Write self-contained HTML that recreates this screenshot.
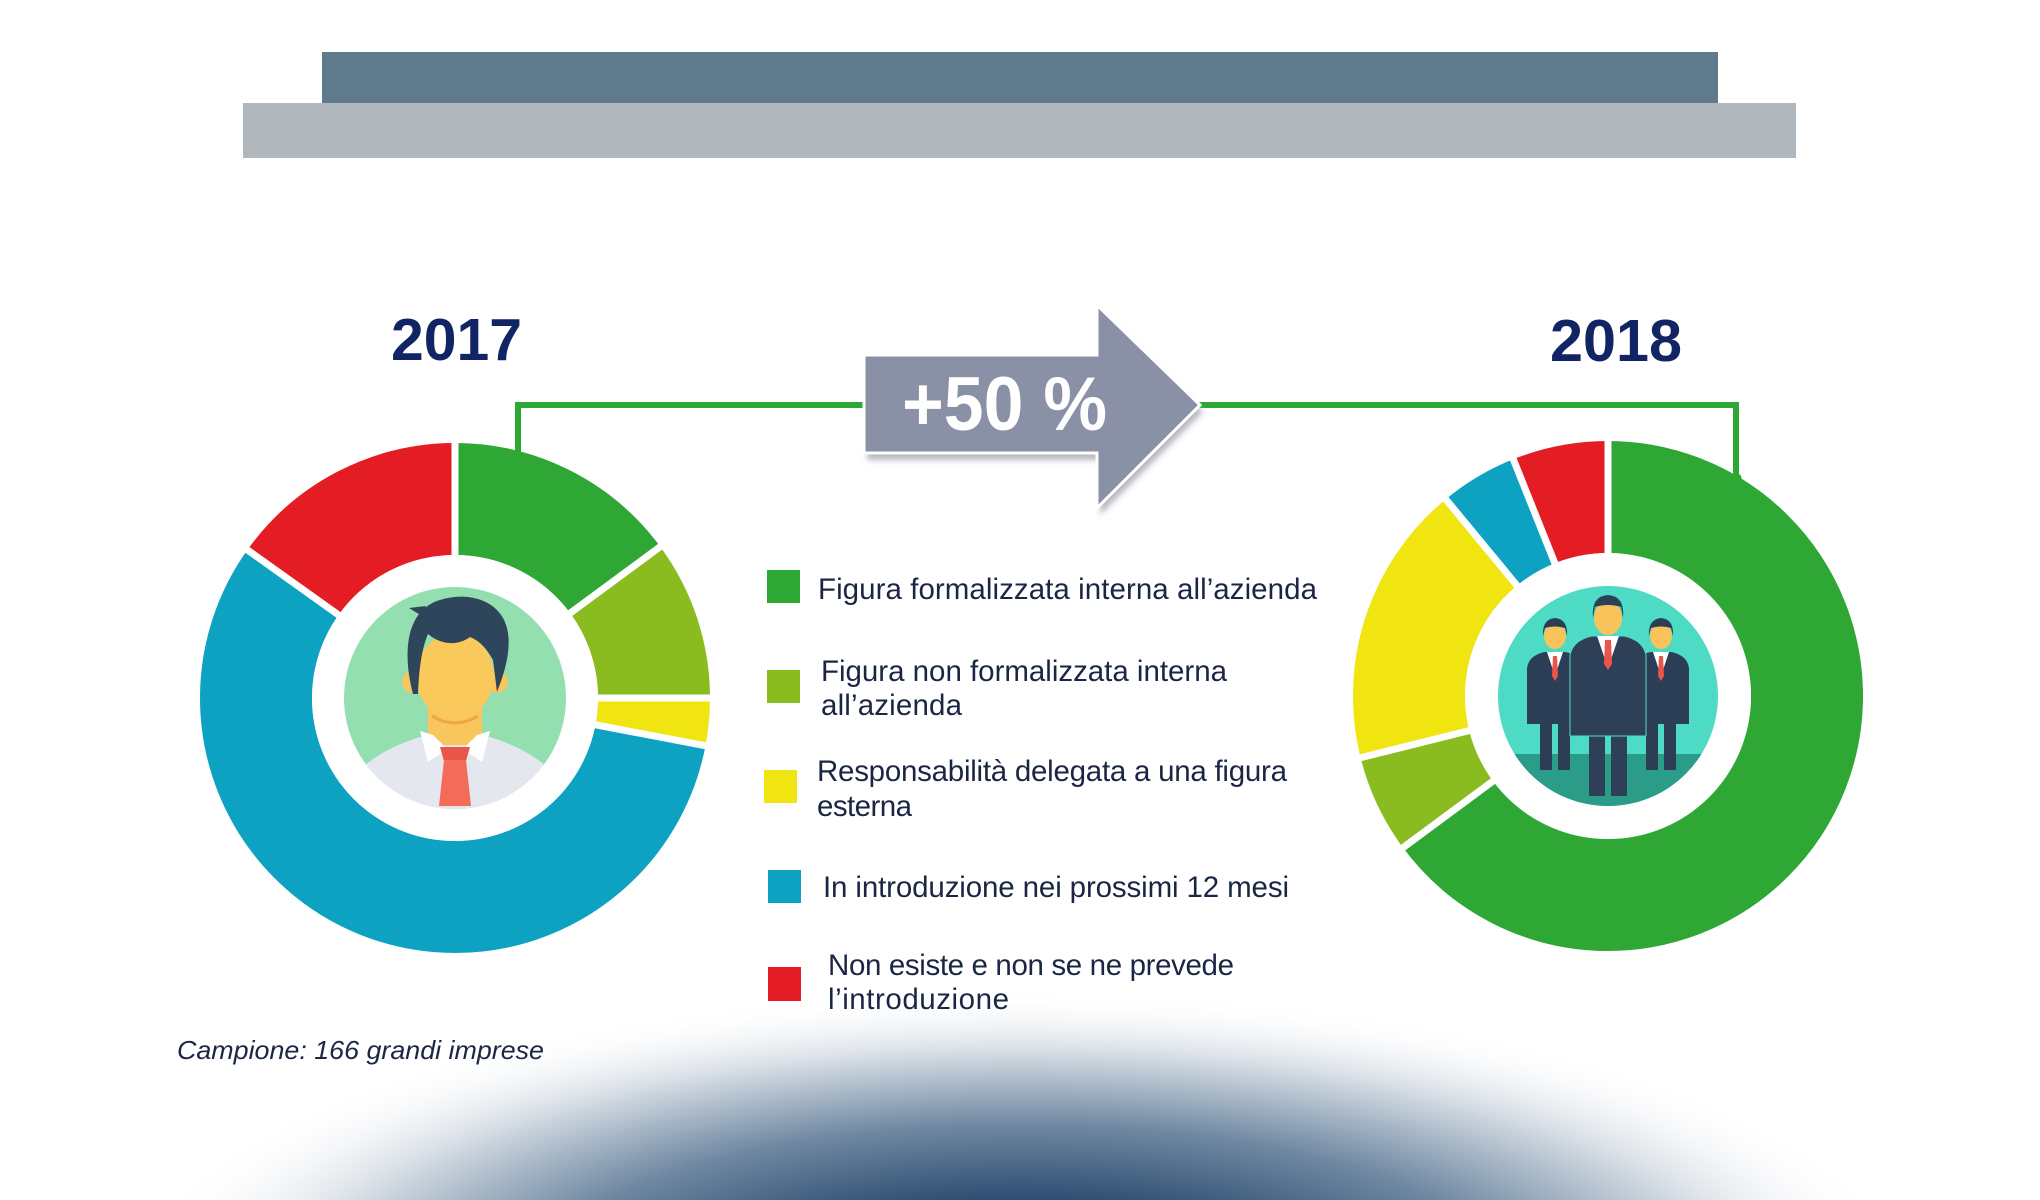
<!DOCTYPE html>
<html>
<head>
<meta charset="utf-8">
<style>
html,body{margin:0;padding:0;background:#fff;}
svg{display:block;}
text{font-family:"Liberation Sans",Arial,sans-serif;}
</style>
</head>
<body>
<svg width="2040" height="1200" viewBox="0 0 2040 1200" xmlns="http://www.w3.org/2000/svg">
<defs>
  <radialGradient id="glow" cx="1020" cy="1290" r="300" gradientUnits="userSpaceOnUse" gradientTransform="translate(1020 1290) scale(3.0 1) translate(-1020 -1290)">
    <stop offset="0" stop-color="#1c385d"/>
    <stop offset="0.3" stop-color="#2e4d72"/>
    <stop offset="0.55" stop-color="#6f88a2"/>
    <stop offset="0.8" stop-color="#d8dfe6"/>
    <stop offset="1" stop-color="#ffffff" stop-opacity="0"/>
  </radialGradient>
  <filter id="blur" x="-10%" y="-10%" width="120%" height="130%"><feGaussianBlur stdDeviation="3"/></filter>
  <clipPath id="clipL"><circle cx="455" cy="698" r="111"/></clipPath>
  <clipPath id="clipR"><circle cx="1608" cy="696" r="110"/></clipPath>
</defs>

<!-- bottom glow -->
<rect x="0" y="900" width="2040" height="300" fill="url(#glow)"/>

<!-- top bars -->
<rect x="322" y="52" width="1396" height="52" fill="#5e7a8b"/>
<rect x="243" y="103" width="1553" height="55" fill="#b0b7bd"/>

<!-- years -->
<text x="391" y="360" font-size="59" font-weight="bold" fill="#112463" textLength="131" lengthAdjust="spacingAndGlyphs">2017</text>
<text x="1550" y="361" font-size="59" font-weight="bold" fill="#112463" textLength="132" lengthAdjust="spacingAndGlyphs">2018</text>

<!-- green connector -->
<polyline points="518,452 518,405 866,405" fill="none" stroke="#2ea735" stroke-width="6"/>
<polyline points="1198,405 1736,405 1736,478" fill="none" stroke="#2ea735" stroke-width="6"/>
<circle cx="1737" cy="478" r="4.5" fill="#2ea735"/>

<!-- arrow -->
<polygon points="864,355 1097,355 1097,305 1200,405 1097,508 1097,453 864,453" fill="#b9b9bf" transform="translate(3,7)" filter="url(#blur)"/>
<polygon points="864,355 1097,355 1097,305 1200,405 1097,508 1097,453 864,453" fill="#8a91a6" stroke="#ffffff" stroke-width="3"/>
<text x="902" y="430" font-size="76" font-weight="bold" fill="#ffffff" textLength="205" lengthAdjust="spacingAndGlyphs">+50 %</text>

<!-- LEFT DONUT -->
<g transform="rotate(-90 455 698)" fill="none" stroke-width="112">
  <circle cx="455" cy="698" r="199" stroke="#2ea735" stroke-dasharray="187 2000" stroke-dashoffset="0"/>
  <circle cx="455" cy="698" r="199" stroke="#8abb1f" stroke-dasharray="127 2000" stroke-dashoffset="-186.2"/>
  <circle cx="455" cy="698" r="199" stroke="#f0e511" stroke-dasharray="38 2000" stroke-dashoffset="-312.6"/>
  <circle cx="455" cy="698" r="199" stroke="#0ea2c2" stroke-dasharray="712 2000" stroke-dashoffset="-350.1"/>
  <circle cx="455" cy="698" r="199" stroke="#e41c24" stroke-dasharray="190 2000" stroke-dashoffset="-1061.1"/>
</g>
<g stroke="#ffffff" stroke-width="7">
  <line x1="455" y1="698" x2="455" y2="430" transform="rotate(0 455 698)"/>
  <line x1="455" y1="698" x2="455" y2="430" transform="rotate(53.6 455 698)"/>
  <line x1="455" y1="698" x2="455" y2="430" transform="rotate(90 455 698)"/>
  <line x1="455" y1="698" x2="455" y2="430" transform="rotate(100.8 455 698)"/>
  <line x1="455" y1="698" x2="455" y2="430" transform="rotate(305.5 455 698)"/>
</g>
<circle cx="455" cy="698" r="143" fill="#ffffff"/>
<circle cx="455" cy="698" r="111" fill="#93dfb0"/>
<g clip-path="url(#clipL)">
  <path d="M340 800 Q356 757 420 737 L490 737 Q554 757 570 800 L570 830 L340 830 Z" fill="#e5e7ee"/>
  <rect x="428" y="700" width="54" height="45" rx="10" fill="#f8c65c"/>
  <path d="M432 716 Q455 730 478 716" fill="none" stroke="#eaa743" stroke-width="3"/>
  <polygon points="420,731 428,762 447,749 433,735" fill="#ffffff"/>
  <polygon points="490,731 482,762 463,749 477,735" fill="#ffffff"/>
  <polygon points="440,747 470,747 466,761 444,761" fill="#e8554a"/>
  <polygon points="444,760 466,760 471,806 439,806" fill="#f56b5a"/>
  <circle cx="413" cy="682" r="11" fill="#f8c65c"/>
  <circle cx="497" cy="682" r="11" fill="#f8c65c"/>
  <ellipse cx="455" cy="676" rx="39" ry="43" fill="#f9c95c"/>
  <path d="M413 694 C402 652 406 610 440 600 C468 591 500 600 507 628 C512 648 505 672 497 692 L493 660 C487 649 480 641 470 637 C456 647 440 644 428 634 C422 648 419 668 418 694 Z" fill="#2f455b"/>
  <path d="M422 616 L409 608 L426 606 Z" fill="#2f455b"/>
</g>

<!-- RIGHT DONUT -->
<g transform="rotate(-90 1608 696)" fill="none" stroke-width="112">
  <circle cx="1608" cy="696" r="199" stroke="#2ea735" stroke-dasharray="812 2000" stroke-dashoffset="0"/>
  <circle cx="1608" cy="696" r="199" stroke="#8abb1f" stroke-dasharray="79 2000" stroke-dashoffset="-811"/>
  <circle cx="1608" cy="696" r="199" stroke="#f0e511" stroke-dasharray="225 2000" stroke-dashoffset="-889.1"/>
  <circle cx="1608" cy="696" r="199" stroke="#0ea2c2" stroke-dasharray="62 2000" stroke-dashoffset="-1113.1"/>
  <circle cx="1608" cy="696" r="199" stroke="#e41c24" stroke-dasharray="76 2000" stroke-dashoffset="-1174.6"/>
</g>
<g stroke="#ffffff" stroke-width="7">
  <line x1="1608" y1="696" x2="1608" y2="428" transform="rotate(0 1608 696)"/>
  <line x1="1608" y1="696" x2="1608" y2="428" transform="rotate(233.5 1608 696)"/>
  <line x1="1608" y1="696" x2="1608" y2="428" transform="rotate(256 1608 696)"/>
  <line x1="1608" y1="696" x2="1608" y2="428" transform="rotate(320.5 1608 696)"/>
  <line x1="1608" y1="696" x2="1608" y2="428" transform="rotate(338.2 1608 696)"/>
</g>
<circle cx="1608" cy="696" r="143" fill="#ffffff"/>
<circle cx="1608" cy="696" r="110" fill="#4edbc6"/>
<g clip-path="url(#clipR)">
  <rect x="1490" y="754" width="240" height="60" fill="#2a9c88"/>
  <!-- left man -->
  <g>
    <rect x="1540" y="718" width="12" height="52" fill="#2c3e55"/>
    <rect x="1558" y="718" width="12" height="52" fill="#2c3e55"/>
    <path d="M1527 668 Q1529 655 1545 652 L1565 652 Q1581 655 1583 668 L1583 724 L1527 724 Z" fill="#2c3e55"/>
    <polygon points="1547,652 1563,652 1555,676" fill="#ffffff"/>
    <polygon points="1553,656 1557,656 1558,676 1555,681 1552,676" fill="#e8554a"/>
    <ellipse cx="1555" cy="636" rx="11" ry="13" fill="#f8c35a"/>
    <path d="M1543 636 Q1542 619 1555 618 Q1568 619 1567 636 L1565 628 Q1555 625 1545 628 Z" fill="#2c3e55"/>
  </g>
  <!-- right man -->
  <g>
    <rect x="1646" y="718" width="12" height="52" fill="#2c3e55"/>
    <rect x="1664" y="718" width="12" height="52" fill="#2c3e55"/>
    <path d="M1633 668 Q1635 655 1651 652 L1671 652 Q1687 655 1689 668 L1689 724 L1633 724 Z" fill="#2c3e55"/>
    <polygon points="1653,652 1669,652 1661,676" fill="#ffffff"/>
    <polygon points="1659,656 1663,656 1664,676 1661,681 1658,676" fill="#e8554a"/>
    <ellipse cx="1661" cy="636" rx="11" ry="13" fill="#f8c35a"/>
    <path d="M1649 636 Q1648 619 1661 618 Q1674 619 1673 636 L1671 628 Q1661 625 1651 628 Z" fill="#2c3e55"/>
  </g>
  <!-- center man -->
  <g>
    <rect x="1589" y="730" width="16" height="66" fill="#2e4058"/>
    <rect x="1611" y="730" width="16" height="66" fill="#2e4058"/>
    <path d="M1570 655 Q1573 640 1592 636 L1624 636 Q1643 640 1646 655 L1646 736 L1570 736 Z" fill="#2e4058" stroke="#4edbc6" stroke-width="1"/>
    <polygon points="1597,636 1619,636 1608,668" fill="#ffffff"/>
    <polygon points="1605,640 1611,640 1612,664 1608,670 1604,664" fill="#e8554a"/>
    <ellipse cx="1608" cy="618" rx="14" ry="17" fill="#f8c35a"/>
    <path d="M1593 618 Q1591 596 1608 595 Q1625 596 1623 618 L1621 607 Q1608 603 1595 607 Z" fill="#2e4058"/>
  </g>
</g>

<!-- legend -->
<g fill="#1b2645" font-size="29.5">
  <rect x="767" y="570" width="33" height="33" fill="#2ea735"/>
  <text x="818" y="599" textLength="499" lengthAdjust="spacing">Figura formalizzata interna all’azienda</text>

  <rect x="767" y="670" width="33" height="33" fill="#8abb1f"/>
  <text x="821" y="681" textLength="406" lengthAdjust="spacing">Figura non formalizzata interna</text>
  <text x="821" y="715" textLength="141" lengthAdjust="spacing">all’azienda</text>

  <rect x="764" y="770" width="33" height="33" fill="#f0e511"/>
  <text x="817" y="781" textLength="470" lengthAdjust="spacing">Responsabilità delegata a una figura</text>
  <text x="817" y="816" textLength="95" lengthAdjust="spacing">esterna</text>

  <rect x="768" y="870" width="33" height="33" fill="#0ea2c2"/>
  <text x="823" y="897" textLength="466" lengthAdjust="spacing">In introduzione nei prossimi 12 mesi</text>

  <rect x="768" y="967" width="33" height="34" fill="#e41c24"/>
  <text x="828" y="975" textLength="406" lengthAdjust="spacing">Non esiste e non se ne prevede</text>
  <text x="828" y="1009" textLength="181" lengthAdjust="spacing">l’introduzione</text>
</g>

<text x="177" y="1059" font-size="26" font-style="italic" fill="#1b2645" textLength="367" lengthAdjust="spacingAndGlyphs">Campione: 166 grandi imprese</text>
</svg>
</body>
</html>
